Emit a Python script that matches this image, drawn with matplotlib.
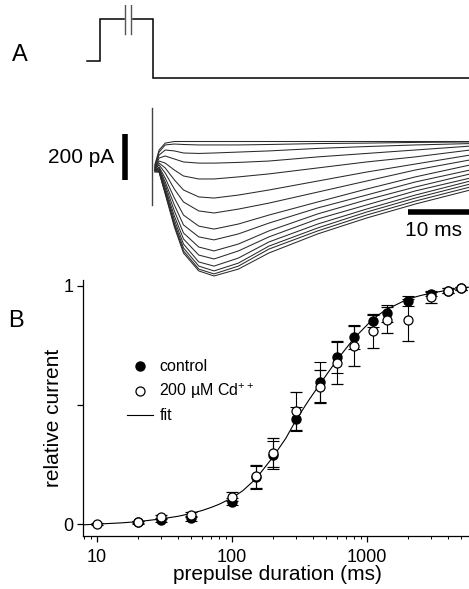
import matplotlib
matplotlib.use("Agg")
import matplotlib.pyplot as plt
from matplotlib.lines import Line2D
import numpy as np

plt.rcParams['font.family'] = ['Liberation Sans', 'DejaVu Sans']
plt.rcParams['mathtext.fontset'] = 'custom'
plt.rcParams['mathtext.rm'] = 'Liberation Sans'
plt.rcParams['mathtext.it'] = 'Liberation Sans'

# ---- panel A: voltage protocol (schematic, mV vs ms) ----
prot_t = [-10.8, -8.7, -8.7, 0.0, 0.0, 52.0]
prot_v = [-80, -80, 0, 0, -112, -112]
break_t = [-4.6, -3.6]

# ---- panel A: current traces (pA) sampled at these times (ms) ----
trace_t = [0.3, 1, 2, 3.5, 5, 7.5, 10, 14, 19, 27, 35, 43, 52]
traces = [
    [-102, -37, -7, 0, 0, 0, 0, 0, 0, 0, 0, 0, 0],
    [-107, -46, -15, -11, -13, -15, -15, -15, -13, -9, -7, -4, -2],
    [-111, -59, -37, -41, -50, -52, -50, -46, -41, -30, -22, -15, -9],
    [-115, -72, -63, -76, -89, -94, -94, -91, -85, -67, -52, -37, -20],
    [-115, -85, -94, -124, -150, -163, -163, -154, -141, -115, -89, -67, -37],
    [-120, -94, -115, -167, -211, -241, -246, -233, -211, -172, -133, -98, -59],
    [-120, -102, -137, -207, -263, -302, -311, -294, -268, -220, -172, -124, -80],
    [-124, -111, -159, -246, -320, -368, -381, -359, -320, -263, -207, -154, -102],
    [-124, -115, -176, -276, -363, -415, -428, -402, -355, -289, -233, -176, -124],
    [-124, -120, -189, -302, -398, -459, -476, -446, -389, -315, -254, -198, -141],
    [-124, -124, -202, -324, -424, -494, -511, -476, -415, -337, -276, -215, -159],
    [-128, -128, -211, -341, -446, -524, -542, -507, -437, -359, -294, -233, -172],
    [-128, -128, -220, -355, -463, -542, -563, -529, -455, -376, -307, -246, -185],
    [-128, -133, -224, -363, -476, -555, -576, -542, -468, -389, -320, -259, -198],
    [-133, -133, -228, -372, -485, -563, -585, -555, -485, -402, -333, -272, -211],
]
spike_t = [-0.2, -0.2]
spike_i = [146, -276]

# scale bars
bar_pa = 200
bar_ms = 10

# ---- panel B ----
dur = [20, 30, 50, 100, 150, 200, 300, 450, 600, 800, 1100, 1400, 2000, 3000, 4000, 5000]
ctrl = [0.007, 0.017, 0.025, 0.094, 0.196, 0.29, 0.44, 0.597, 0.70, 0.787, 0.854, 0.885, 0.937, 0.966, 0.98, 0.99]
ctrl_err = [0.005, 0.01, 0.01, 0.015, 0.05, 0.06, 0.05, 0.085, 0.065, 0.05, 0.025, 0.035, 0.02, 0.01, 0.01, 0.005]
dur_cd = [10, 20, 30, 50, 100, 150, 200, 300, 450, 600, 800, 1100, 1400, 2000, 3000, 4000, 5000]
cd = [0.0, 0.01, 0.03, 0.04, 0.115, 0.20, 0.30, 0.475, 0.577, 0.678, 0.748, 0.811, 0.857, 0.857, 0.952, 0.98, 0.99]
cd_err = [0.005, 0.005, 0.01, 0.01, 0.02, 0.05, 0.06, 0.08, 0.07, 0.09, 0.085, 0.07, 0.056, 0.09, 0.025, 0.01, 0.005]
fit_x = [8, 10, 15, 20, 30, 40, 50, 60, 70, 80, 100, 120, 150, 200, 250, 300, 370, 450,
         600, 800, 1100, 1300, 1500, 2000, 2500, 3000, 4000, 5700]
fit_y = [-0.003, 0.0, 0.005, 0.01, 0.022, 0.033, 0.045, 0.057, 0.07, 0.083, 0.11, 0.14, 0.19,
         0.28, 0.36, 0.44, 0.52, 0.59, 0.69, 0.78, 0.86, 0.89, 0.91, 0.945, 0.96, 0.97, 0.983, 0.995]

W, H = 469, 589
fig = plt.figure(figsize=(W / 100, H / 100), dpi=100)


def box(x0, y0, x1, y1):
    return [x0 / W, 1 - y1 / H, (x1 - x0) / W, (y1 - y0) / H]


# time axis shared by protocol and traces: x_px = 153 + 6.1 * t
t_left = (80 - 153) / 6.1
t_right = (469 - 153) / 6.1

axp = fig.add_axes(box(80, 5, 469, 90))
axp.plot(prot_t, prot_v, color='black', lw=1.1, solid_joinstyle='miter')
axp.fill_betweenx([-30, 30], break_t[0], break_t[1], color='white', zorder=3)
for bt in break_t:
    axp.plot([bt, bt], [-28, 28], color='#555555', lw=1.0, zorder=4)
axp.set_xlim(t_left, t_right)
# y px = 19 at 0 mV, 0.525 px per mV
axp.set_ylim(-(90 - 19) / 0.525, (19 - 5) / 0.525)
axp.axis('off')

axa = fig.add_axes(box(80, 98, 469, 285))
for tr in traces:
    axa.plot(trace_t, tr, color='#2a2a2a', lw=0.75)
axa.plot(spike_t, spike_i, color='#444444', lw=1.0)
# scale bars
axa.plot([-4.6, -4.6], [32, 32 - bar_pa], color='black', lw=4.0, solid_capstyle='butt')
axa.text(-6.3, 32 - bar_pa / 2, '200 pA', ha='right', va='center', fontsize=15)
axa.plot([t_right - bar_ms, t_right], [-306, -306], color='black', lw=4.0, solid_capstyle='butt')
axa.text(t_right - bar_ms / 2 - 0.8, -385, '10 ms', ha='center', va='center', fontsize=15)
axa.set_xlim(t_left, t_right)
# y px = 141.5 - I / 4.35
axa.set_ylim(-(285 - 141.5) * 4.35, (141.5 - 98) * 4.35)
axa.axis('off')

fig.text(12 / W, 1 - 55 / H, 'A', fontsize=17, va='center', ha='left')
fig.text(8 / W, 1 - 321 / H, 'B', fontsize=17, va='center', ha='left')

# ---- panel B ----
axb = fig.add_axes(box(83, 280, 469, 536))
axb.plot(fit_x, fit_y, color='black', lw=0.8, zorder=1)
axb.errorbar(dur, ctrl, yerr=ctrl_err, fmt='o', color='black', ms=6.5,
             mfc='black', mec='black', ecolor='black', elinewidth=0.8,
             capsize=4, capthick=0.8, zorder=3)
axb.errorbar(dur_cd, cd, yerr=cd_err, fmt='o', color='black', ms=6.5,
             mfc='white', mec='black', mew=0.9, ecolor='black', elinewidth=0.8,
             capsize=4, capthick=0.8, zorder=4)
axb.set_xscale('log')
axb.set_xlim(7.87, 5690)
axb.set_ylim(-0.05, 1.025)
axb.set_yticks([0, 0.5, 1])
axb.set_yticklabels(['0', '', '1'])
axb.set_xticks([10, 100, 1000])
axb.set_xticklabels(['10', '100', '1000'])
axb.tick_params(axis='both', which='major', labelsize=13, length=4, width=0.9, pad=3)
axb.tick_params(axis='x', which='major', pad=5)
axb.tick_params(axis='x', which='minor', length=2.5, width=0.7)
for s in ['top', 'right']:
    axb.spines[s].set_visible(False)
for s in ['left', 'bottom']:
    axb.spines[s].set_linewidth(0.9)
axb.set_ylabel('relative current', fontsize=15)
axb.yaxis.set_label_coords(-0.052, 0.46)
axb.set_xlabel('prepulse duration (ms)', fontsize=15)
axb.xaxis.set_label_coords(0.503, -0.115)

handles = [
    Line2D([], [], marker='o', ls='none', color='black', mfc='black', ms=6.5),
    Line2D([], [], marker='o', ls='none', color='black', mfc='white', mew=0.9, ms=6.5),
    Line2D([], [], color='black', lw=0.8),
]
axb.legend(handles, ['control', '200 µM Cd$^{++}$', 'fit'], loc='upper left',
           bbox_to_anchor=(0.115, 0.69), frameon=False, fontsize=11.5,
           handlelength=1.6, handletextpad=0.4, labelspacing=0.45,
           borderaxespad=0, borderpad=0)

fig.savefig('out.png', dpi=100)
